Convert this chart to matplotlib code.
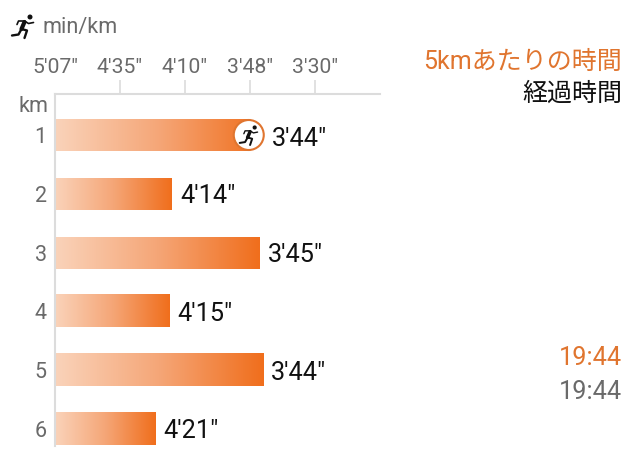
import numpy as np
import matplotlib
matplotlib.use("Agg")
import matplotlib.pyplot as plt
from matplotlib.colors import LinearSegmentedColormap
from matplotlib.patches import Circle, Rectangle

plt.rcParams['font.family'] = ['Roboto', 'Noto Sans CJK JP', 'DejaVu Sans']

km = [1, 2, 3, 4, 5, 6]
pace_seconds = [224.5, 254.8, 225.6, 255.7, 224.7, 261.3]
pace_labels = ["3'44\"", "4'14\"", "3'45\"", "4'15\"", "3'44\"", "4'21\""]
tick_speeds = [3.25, 3.625, 4.0, 4.375, 4.75]
tick_labels = ["5'07\"", "4'35\"", "4'10\"", "3'48\"", "3'30\""]
legend_labels = ["5kmあたりの時間", "経過時間"]
total_labels = ["19:44", "19:44"]

W, H = 640, 468
ORANGE = "#E0752F"
GREY = "#6A6A6A"
LINE = "#DCDCDC"

fig = plt.figure(figsize=(W / 100, H / 100), dpi=100)
L, R, T, B = 55, 380, 94, 446
ax = fig.add_axes([L / W, 1 - B / H, (R - L) / W, (B - T) / H])

x0 = 3.25
per_px = 0.375 / 65
row = 58.8
xlim = (x0, x0 + (R - L) * per_px)
ylim = (6 + (B - 429) / row, 1 - (135 - T) / row)
ax.patch.set_alpha(0)

for s in ("right", "bottom"):
    ax.spines[s].set_visible(False)
for s in ("left", "top"):
    ax.spines[s].set_color(LINE)
    ax.spines[s].set_linewidth(1.5)

ax.xaxis.tick_top()
ax.set_xticks(tick_speeds)
ax.set_xticklabels(tick_labels, fontsize=15.2, color=GREY)
ax.tick_params(axis="x", length=10, width=1.2, color=LINE, pad=2.5)
ax.xaxis.get_major_ticks()[0].tick2line.set_visible(False)
ax.xaxis.get_major_ticks()[0].tick1line.set_visible(False)
ax.set_yticks(km)
ax.set_yticklabels([str(k) for k in km], fontsize=15.5, color=GREY)
ax.tick_params(axis="y", length=0, pad=6)

# overlay in pixel coordinates for the decorations
ov = fig.add_axes([0, 0, 1, 1], zorder=5)
ov.set_xlim(0, W)
ov.set_ylim(H, 0)
ov.axis("off")

cmap = LinearSegmentedColormap.from_list("bar", ["#FAD3BA", "#F5A677", "#F06E1C"])
grad = np.linspace(0, 1, 256).reshape(1, -1)
bar_h = 32 / row
images = []
for k, sec, lab in zip(km, pace_seconds, pace_labels):
    speed = 1000 / sec
    im = ax.imshow(grad, cmap=cmap, aspect="auto", interpolation="bilinear",
                   extent=(x0, speed, k + bar_h / 2, k - bar_h / 2), zorder=2)
    images.append(im)
    ax.annotate(lab, xy=(speed, k), xytext=(5.8, -3.2 if k == 1 else -1.8),
                textcoords="offset points",
                fontsize=18.2, color="#111111", va="center", ha="left", zorder=4,
                annotation_clip=False)
ax.set_xlim(*xlim)
ax.set_ylim(*ylim)


def runner(cx, cy, s, color="#111111"):
    """Small running-figure pictogram centred on (cx, cy), s = height in px."""
    u = s / 24
    ov.add_patch(Circle((cx + 6.5 * u, cy - 9 * u), 2.5 * u, color=color, lw=0, zorder=8))
    def stroke(pts, w):
        xs = [cx + p[0] * u for p in pts]
        ys = [cy + p[1] * u for p in pts]
        ov.plot(xs, ys, color=color, lw=w * u, solid_capstyle="round",
                solid_joinstyle="round", zorder=8)
    stroke([(1, -4), (-2, 3)], 3.0)                    # torso
    stroke([(1, -5), (-5, -5), (-6.5, -1.5)], 1.2)     # rear arm
    stroke([(1, -5), (5, -2.5), (10, -3.5)], 1.2)      # front arm
    stroke([(-2, 3), (3.5, 4.5), (1, 12)], 1.7)        # front leg
    stroke([(-2, 3), (-5, 8.5), (-11.5, 9.5)], 1.7)    # rear leg


runner(23.5, 26, 24)

# marker on km 1: the bar stops at the centre of the circle so its end looks round
bar_end_px = L + (1000 / pace_seconds[0] - x0) / per_px
r = 15.0
cx = bar_end_px - r
images[0].set_clip_path(Rectangle((L, 0), cx - L, H, transform=ov.transData))
ov.add_patch(Circle((cx, 135), r, facecolor="white", edgecolor=ORANGE, lw=1.5, zorder=7))
runner(cx + 0.5, 135, 20)

ov.text(42, 27, "min/km", fontsize=15.6, color=GREY, ha="left", va="center")
ov.text(49, 106, "km", fontsize=15.6, color=GREY, ha="right", va="center")

ov.text(622, 62, legend_labels[0], fontsize=18, color=ORANGE, ha="right", va="center")
ov.text(622, 94, legend_labels[1], fontsize=18, color="#111111", ha="right", va="center")
ov.text(622, 358, total_labels[0], fontsize=18.2, color=ORANGE, ha="right", va="center")
ov.text(622, 392, total_labels[1], fontsize=18.2, color=GREY, ha="right", va="center")

fig.savefig("out.png", dpi=100, facecolor="white")
